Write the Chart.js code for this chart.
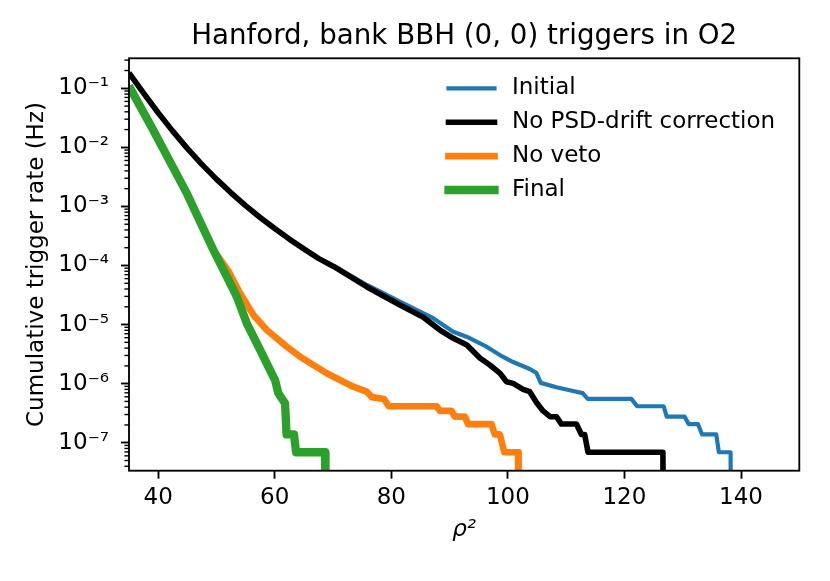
<!DOCTYPE html>
<html>
<head>
<meta charset="utf-8">
<script src="https://cdn.jsdelivr.net/npm/chart.js@4.4.1/dist/chart.umd.min.js"></script>
<style>
  html, body { margin: 0; padding: 0; background: #fff; }
  canvas { display: block; }
</style>
</head>
<body>
<canvas id="c" width="830" height="581"></canvas>
<script>
// ---------------- data ----------------
const xTickValues = [40, 60, 80, 100, 120, 140];
const xTickLabels = ['40', '60', '80', '100', '120', '140'];
const yTickValues = [1e-7, 1e-6, 1e-5, 1e-4, 1e-3, 1e-2, 1e-1];
const yTickLabels = ['10⁻⁷', '10⁻⁶', '10⁻⁵', '10⁻⁴', '10⁻³', '10⁻²', '10⁻¹'];
const xMin = 35, xMax = 150;
const yMin = 3.36e-8, yMax = 0.322;

const seriesLabels = ['Initial', 'No PSD-drift correction', 'No veto', 'Final'];

// Initial
const initialX = [35, 37.5, 40, 42.5, 45, 47.5, 50, 52.5, 55, 57.5,
  60, 62.5, 65, 67.5, 70.17, 75.83, 81.48, 87.19, 90.61, 92.91,
  96.34, 98.62, 100.90, 103.76, 104.91, 105.64, 108.33, 111.18, 112.84, 113.70,
  121.19, 122.18, 126.73, 127.25, 130.33, 131.01, 132.61, 133.32, 135.75, 136.20,
  138.21, 138.29];
const initialY = [0.182, 0.0826, 0.0386, 0.01884, 9.6e-3, 5.15e-3, 2.90e-3, 1.70e-3, 1.03e-3, 6.49e-4,
  4.22e-4, 2.80e-4, 1.91e-4, 1.32e-4, 9.8e-5, 4.68e-5, 2.44e-5, 1.28e-5, 7.58e-6, 6.24e-6,
  4.23e-6, 3.05e-6, 2.32e-6, 1.77e-6, 1.51e-6, 1.03e-6, 8.67e-7, 7.5e-7, 6.9e-7, 5.52e-7,
  5.52e-7, 4.14e-7, 4.14e-7, 2.76e-7, 2.76e-7, 2.07e-7, 2.07e-7, 1.38e-7, 1.38e-7, 6.9e-8,
  6.9e-8, 1e-9];

// No PSD-drift correction
const noPsdX = [35, 37.5, 40, 42.5, 45, 47.5, 50, 52.5, 55, 57.5,
  60, 62.5, 65, 67.5, 70.17, 75.83, 81.48, 85.43, 88.34, 90.57,
  92.97, 95.20, 96.91, 98.62, 99.77, 100.90, 102.61, 103.76, 104.91, 106.04,
  107.24, 108.33, 109.19, 111.76, 112.62, 113.18, 113.75, 126.60, 126.69];
const noPsdY = [0.182, 0.0826, 0.0386, 0.01884, 9.6e-3, 5.15e-3, 2.90e-3, 1.70e-3, 1.03e-3, 6.49e-4,
  4.22e-4, 2.80e-4, 1.91e-4, 1.32e-4, 9.55e-5, 4.33e-5, 2.14e-5, 1.34e-5, 8.09e-6, 5.92e-6,
  4.51e-6, 2.72e-6, 2.07e-6, 1.51e-6, 1.08e-6, 1.01e-6, 8.0e-7, 7.3e-7, 4.8e-7, 3.45e-7,
  2.76e-7, 2.76e-7, 2.07e-7, 2.07e-7, 1.38e-7, 1.38e-7, 6.9e-8, 6.9e-8, 1e-9];

// No veto
const noVetoX = [35, 39.15, 44.97, 49.48, 52.05, 54.06, 56.34, 58.63, 62.06, 64.34,
  66.62, 68.92, 71.20, 73.48, 75.77, 76.68, 78.74, 79.59, 87.77, 88.33,
  90.34, 90.90, 92.62, 93.18, 97.19, 97.76, 98.62, 99.39, 101.75, 101.84];
const noVetoY = [0.109, 0.0197, 1.63e-3, 1.83e-4, 8.07e-5, 3.39e-5, 1.45e-5, 8.09e-6, 4.23e-6, 2.86e-6,
  2.07e-6, 1.50e-6, 1.15e-6, 8.88e-7, 7.31e-7, 5.9e-7, 5.5e-7, 4.14e-7, 4.14e-7, 3.45e-7,
  3.45e-7, 2.76e-7, 2.76e-7, 2.07e-7, 2.07e-7, 1.38e-7, 1.38e-7, 6.9e-8, 6.9e-8, 1e-9];

// Final
const finalX = [35, 39.15, 44.97, 49.48, 51.78, 53.49, 55.21, 57.49, 59.20, 60.06,
  60.62, 61.77, 62.03, 63.31, 63.66, 68.63, 68.71];
const finalY = [0.109, 0.0197, 1.63e-3, 1.83e-4, 6.47e-5, 2.97e-5, 1.05e-5, 3.72e-6, 1.70e-6, 1.15e-6,
  6.9e-7, 4.65e-7, 1.38e-7, 1.38e-7, 6.9e-8, 6.9e-8, 1e-9];

// ---------------- chart ----------------
const FONT = 'DejaVu Sans';
Chart.defaults.font.family = FONT;
Chart.defaults.color = '#000';

const pts = (xs, ys) => xs.map((x, i) => ({ x: x, y: ys[i] }));

function lineDs(label, xs, ys, color, width, order) {
  return {
    label: label,
    data: pts(xs, ys),
    borderColor: color,
    backgroundColor: color,
    borderWidth: width,
    pointRadius: 0,
    pointHoverRadius: 0,
    tension: 0,
    fill: false,
    borderJoinStyle: 'round',
    borderCapStyle: 'butt',
    clip: 0,
    order: order
  };
}

const decorPlugin = {
  id: 'decor',
  afterDatasetsDraw(chart) {
    const { ctx, chartArea: a, scales } = chart;
    const y = scales.y;
    ctx.save();
    // minor log ticks
    ctx.strokeStyle = '#000';
    ctx.lineWidth = 1.4;
    for (let e = -9; e <= 0; e++) {
      for (let n = 2; n <= 9; n++) {
        const v = n * Math.pow(10, e);
        if (v < y.min || v > y.max) continue;
        const py = y.getPixelForValue(v);
        ctx.beginPath();
        ctx.moveTo(a.left - 4.6, py);
        ctx.lineTo(a.left, py);
        ctx.stroke();
      }
    }
    // axes frame
    ctx.lineWidth = 1.85;
    ctx.strokeRect(a.left, a.top, a.right - a.left, a.bottom - a.top);
    ctx.restore();
  },
  afterDraw(chart) {
    const { ctx } = chart;
    ctx.save();
    ctx.font = '23px "' + FONT + '"';
    ctx.textBaseline = 'middle';
    ctx.textAlign = 'left';
    chart.data.datasets.forEach((ds, i) => {
      const cy = 88.3 + i * 33.9;
      ctx.strokeStyle = ds.borderColor;
      ctx.lineWidth = ds.borderWidth;
      ctx.lineCap = 'square';
      ctx.beginPath();
      ctx.moveTo(448.5, cy);
      ctx.lineTo(494.5, cy);
      ctx.stroke();
      ctx.fillStyle = '#000';
      ctx.fillText(ds.label, 512, cy);
    });
    ctx.restore();
  }
};

new Chart(document.getElementById('c'), {
  type: 'line',
  data: {
    datasets: [
      lineDs(seriesLabels[0], initialX, initialY, '#1f77b4', 4.2, 3),
      lineDs(seriesLabels[1], noPsdX, noPsdY, '#000000', 5.6, 2),
      lineDs(seriesLabels[2], noVetoX, noVetoY, '#ff7f0e', 6.7, 1),
      lineDs(seriesLabels[3], finalX, finalY, '#2ca02c', 8.3, 0)
    ]
  },
  options: {
    responsive: false,
    animation: false,
    events: [],
    layout: { padding: { left: 0, top: 0, right: 30.7, bottom: 0 } },
    plugins: {
      legend: { display: false },
      tooltip: { enabled: false },
      title: {
        display: true,
        fullSize: false,
        text: 'Hanford, bank BBH (0, 0) triggers in O2',
        font: { size: 27.7, weight: 'normal' },
        color: '#000',
        padding: { top: 19.8, bottom: 5.26 }
      }
    },
    scales: {
      x: {
        type: 'linear',
        min: xMin,
        max: xMax,
        afterBuildTicks: (s) => { s.ticks = xTickValues.map(v => ({ value: v })); },
        afterFit: (s) => { s.height = 110.3; },
        ticks: {
          callback: (v, i) => xTickLabels[i],
          font: { size: 23 },
          color: '#000',
          padding: 5.2,
          maxRotation: 0,
          autoSkip: false
        },
        grid: { drawOnChartArea: false, drawTicks: true, tickLength: 8, tickWidth: 1.85, tickColor: '#000' },
        border: { display: false },
        title: {
          display: true,
          text: 'ρ²',
          font: { size: 23, style: 'italic' },
          color: '#000',
          padding: { top: 0, bottom: 37.6 }
        }
      },
      y: {
        type: 'logarithmic',
        min: yMin,
        max: yMax,
        bounds: 'data',
        afterBuildTicks: (s) => { s.ticks = yTickValues.map(v => ({ value: v })); },
        afterFit: (s) => { s.width = 129; },
        ticks: {
          callback: (v, i) => yTickLabels[i],
          font: { size: 23 },
          color: '#000',
          padding: 12,
          autoSkip: false
        },
        grid: { drawOnChartArea: false, drawTicks: true, tickLength: 8, tickWidth: 1.85, tickColor: '#000' },
        border: { display: false },
        title: {
          display: true,
          text: 'Cumulative trigger rate (Hz)',
          font: { size: 23 },
          color: '#000',
          padding: { top: 23.5, bottom: 0 }
        }
      }
    }
  },
  plugins: [decorPlugin]
});
</script>
</body>
</html>
